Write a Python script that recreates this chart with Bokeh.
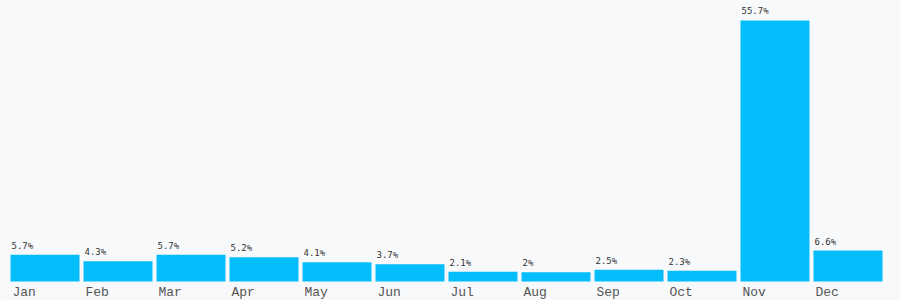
from bokeh.plotting import figure
from bokeh.models import ColumnDataSource, Range1d
from bokeh.core.properties import value
from bokeh.embed import file_html
from bokeh.resources import INLINE

months = ["Jan", "Feb", "Mar", "Apr", "May", "Jun", "Jul", "Aug", "Sep", "Oct", "Nov", "Dec"]
shares = [5.7, 4.3, 5.7, 5.2, 4.1, 3.7, 2.1, 2.0, 2.5, 2.3, 55.7, 6.6]
labels = ["5.7%", "4.3%", "5.7%", "5.2%", "4.1%", "3.7%", "2.1%", "2%", "2.5%", "2.3%", "55.7%", "6.6%"]

idx = list(range(len(months)))
src = ColumnDataSource(dict(
    left=idx,
    right=[i + 69 / 73 for i in idx],
    top=shares,
    months=months,
    labels=labels,
    zero=[0] * len(idx),
    mlab_y=[-2.35] * len(idx),
))

bg = "#f8f9fb"
p = figure(width=900, height=300, output_backend="svg", toolbar_location=None,
           x_range=Range1d(-10 / 73, 890 / 73), y_range=Range1d(-19 / 4.686, 281 / 4.686),
           min_border=0, background_fill_color=bg, border_fill_color=bg)
p.outline_line_color = None
p.axis.visible = False
p.grid.visible = False

p.quad(left="left", right="right", bottom="zero", top="top", source=src,
       fill_color="#05bdfb", line_color=None)

p.text(x="left", y="top", text="labels", source=src, x_offset=1, y_offset=-4,
       text_font=value("DejaVu Sans Mono"), text_font_size="9px",
       text_baseline="bottom", text_align="left", text_color="#333333")

p.text(x="left", y="mlab_y", text="months", source=src, x_offset=2,
       text_font=value("Liberation Mono"), text_font_size="13px",
       text_baseline="middle", text_align="left", text_color="#555555")

open("out.html", "w").write(file_html(p, INLINE))
